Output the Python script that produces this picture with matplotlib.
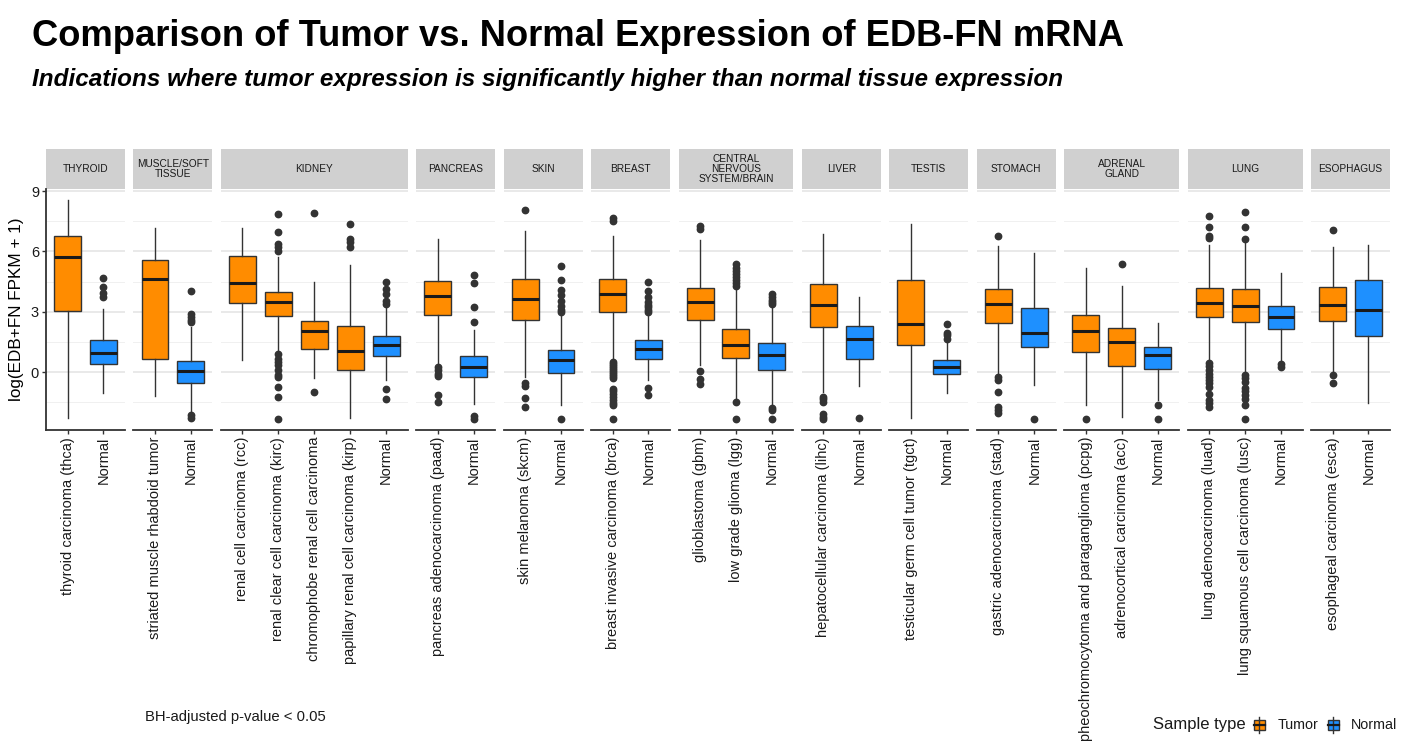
import matplotlib
matplotlib.use('Agg')
import matplotlib.pyplot as plt
from matplotlib.patches import Rectangle
from matplotlib.lines import Line2D

plt.rcParams['font.family'] = ['Liberation Sans', 'DejaVu Sans']

# ---------------- data ----------------
facets = ['THYROID', 'MUSCLE/SOFT\nTISSUE', 'KIDNEY', 'PANCREAS', 'SKIN', 'BREAST',
          'CENTRAL\nNERVOUS\nSYSTEM/BRAIN', 'LIVER', 'TESTIS', 'STOMACH',
          'ADRENAL\nGLAND', 'LUNG', 'ESOPHAGUS']
facet_sizes = [2, 2, 5, 2, 2, 2, 3, 2, 2, 2, 3, 3, 2]

labels = ['thyroid carcinoma (thca)', 'Normal',
          'striated muscle rhabdoid tumor', 'Normal',
          'renal cell carcinoma (rcc)', 'renal clear cell carcinoma (kirc)',
          'chromophobe renal cell carcinoma', 'papillary renal cell carcinoma (kirp)', 'Normal',
          'pancreas adenocarcinoma (paad)', 'Normal',
          'skin melanoma (skcm)', 'Normal',
          'breast invasive carcinoma (brca)', 'Normal',
          'glioblastoma (gbm)', 'low grade glioma (lgg)', 'Normal',
          'hepatocellular carcinoma (lihc)', 'Normal',
          'testicular germ cell tumor (tgct)', 'Normal',
          'gastric adenocarcinoma (stad)', 'Normal',
          'pheochromocytoma and paraganglioma (pcpg)', 'adrenocortical carcinoma (acc)', 'Normal',
          'lung adenocarcinoma (luad)', 'lung squamous cell carcinoma (lusc)', 'Normal',
          'esophageal carcinoma (esca)', 'Normal']

sample_type = ['Tumor', 'Normal', 'Tumor', 'Normal',
               'Tumor', 'Tumor', 'Tumor', 'Tumor', 'Normal',
               'Tumor', 'Normal', 'Tumor', 'Normal', 'Tumor', 'Normal',
               'Tumor', 'Tumor', 'Normal', 'Tumor', 'Normal', 'Tumor', 'Normal',
               'Tumor', 'Normal', 'Tumor', 'Tumor', 'Normal',
               'Tumor', 'Tumor', 'Normal', 'Tumor', 'Normal']

whislo = [-2.29, -1.05, -1.17, -1.96, 0.63, 1.09, -0.31, -2.29, -0.40,
          0.40, -1.60, -0.23, -1.63, 0.59, -0.40, 0.35, -1.30, -1.63,
          -1.00, -0.69, -2.29, -1.05, -0.15, -0.64, -1.63, -2.24, -1.38,
          0.56, -0.07, 0.43, -0.07, -1.55]
q1 = [3.02, 0.40, 0.66, -0.53, 3.43, 2.80, 1.15, 0.10, 0.81,
      2.85, -0.26, 2.57, -0.02, 2.98, 0.64, 2.59, 0.69, 0.13,
      2.23, 0.68, 1.34, -0.10, 2.44, 1.25, 1.02, 0.31, 0.15,
      2.74, 2.47, 2.16, 2.52, 1.78]
median = [5.74, 0.97, 4.63, 0.05, 4.43, 3.49, 2.03, 1.05, 1.34,
          3.81, 0.26, 3.63, 0.59, 3.89, 1.17, 3.49, 1.37, 0.84,
          3.35, 1.66, 2.37, 0.26, 3.40, 1.94, 2.03, 1.50, 0.84,
          3.46, 3.30, 2.74, 3.35, 3.07]
q3 = [6.77, 1.58, 5.59, 0.58, 5.79, 4.00, 2.55, 2.29, 1.80,
      4.53, 0.79, 4.63, 1.12, 4.63, 1.58, 4.20, 2.13, 1.43,
      4.40, 2.31, 4.60, 0.59, 4.14, 3.20, 2.85, 2.21, 1.25,
      4.20, 4.12, 3.28, 4.25, 4.58]
whishi = [8.54, 3.15, 7.14, 2.24, 7.14, 5.70, 4.50, 5.34, 3.30,
          6.61, 2.11, 7.02, 2.90, 6.77, 2.90, 6.56, 4.22, 3.31,
          6.86, 3.73, 7.35, 1.58, 6.28, 5.90, 5.16, 4.30, 2.44,
          6.33, 6.40, 4.91, 6.23, 6.33]
outliers = [
    [],
    [3.73, 3.92, 4.25, 4.66],
    [],
    [2.50, 2.60, 2.75, 2.90, 4.02, -2.14, -2.29],
    [],
    [7.85, 6.97, 6.36, 6.20, 6.03, 0.92, 0.68, 0.51, 0.35, 0.10, -0.15, -0.26, -0.73, -1.22, -2.31],
    [7.90, -0.96],
    [7.35, 6.60, 6.45, 6.23],
    [4.50, 4.14, 3.89, 3.56, 3.40, -0.81, -1.35],
    [0.26, 0.10, -0.07, -0.20, -1.14, -1.47],
    [4.83, 4.42, 3.26, 2.49, -2.18, -2.31],
    [8.06, -0.56, -0.68, -1.30, -1.71],
    [5.26, 4.60, 4.10, 3.86, 3.53, 3.31, 3.07, 2.98, -2.31],
    [7.65, 7.52, 0.51, 0.40, 0.30, 0.20, 0.10, 0.00, -0.10, -0.20, -0.30,
     -0.81, -0.95, -1.10, -1.25, -1.40, -1.55, -1.63, -2.31],
    [4.47, 4.02, 3.73, 3.48, 3.35, 3.23, 3.10, 2.98, -0.76, -1.15],
    [7.27, 7.10, 0.07, -0.36, -0.59],
    [5.37, 5.20, 5.05, 4.90, 4.75, 4.60, 4.45, 4.30, -1.48, -2.31],
    [3.89, 3.75, 3.60, 3.50, 3.40, -1.76, -1.88, -2.31],
    [-1.22, -1.35, -1.48, -2.08, -2.21, -2.31],
    [-2.26],
    [],
    [2.41, 1.96, 1.83, 1.66],
    [6.76, -0.23, -0.40, -0.97, -1.71, -1.88, -2.04],
    [-2.31],
    [-2.31],
    [5.37],
    [-1.63, -2.31],
    [7.76, 7.22, 6.77, 6.66, 0.46, 0.30, 0.10, -0.10, -0.25, -0.40, -0.55, -0.75, -1.10, -1.40, -1.55, -1.71],
    [7.98, 7.22, 6.63, -0.15, -0.30, -0.50, -0.80, -0.95, -1.15, -1.35, -1.63, -2.31],
    [0.40, 0.26],
    [7.05, -0.15, -0.56],
    [],
]

colors = {'Tumor': '#FF8C00', 'Normal': '#1E90FF'}
legend_order = ['Tumor', 'Normal']

# ---------------- layout ----------------
W, H = 1418, 756
fig = plt.figure(figsize=(W / 100, H / 100), dpi=100)

left_px, right_px = 46, 1390
gap_px = 8.5
panel_top_px, panel_bot_px = 189, 430
strip_top_px = 149
units = [n + 0.2 for n in facet_sizes]
unit_px = (right_px - left_px - gap_px * (len(facets) - 1)) / sum(units)

ylim = (-2.87, 9.1)
dark = '#333333'
txt = '#1a1a1a'

x_px = left_px
start = 0
for fi, (fname, n) in enumerate(zip(facets, facet_sizes)):
    w_px = units[fi] * unit_px
    ax = fig.add_axes([x_px / W, 1 - panel_bot_px / H, w_px / W,
                       (panel_bot_px - panel_top_px) / H])
    idx = list(range(start, start + n))
    stats = []
    for i in idx:
        stats.append(dict(med=median[i], q1=q1[i], q3=q3[i], whislo=whislo[i],
                          whishi=whishi[i], fliers=outliers[i], label=labels[i]))
    pos = list(range(1, n + 1))
    bp = ax.bxp(stats, positions=pos, widths=0.75, patch_artist=True, showcaps=False,
                boxprops=dict(edgecolor=dark, linewidth=1.0),
                medianprops=dict(color='#1a1a1a', linewidth=2.2, solid_capstyle='butt'),
                whiskerprops=dict(color=dark, linewidth=1.0),
                flierprops=dict(marker='o', markerfacecolor=dark, markeredgecolor=dark,
                                markersize=4.6, linestyle='none'),
                zorder=3)
    for b, i in zip(bp['boxes'], idx):
        b.set_facecolor(colors[sample_type[i]])

    ax.set_xlim(0.4, n + 0.6)
    ax.set_ylim(*ylim)
    ax.set_yticks([0, 3, 6, 9])
    ax.set_yticks([-1.5, 1.5, 4.5, 7.5], minor=True)
    ax.grid(axis='y', which='major', color='#e3e3e3', linewidth=1.1)
    ax.grid(axis='y', which='minor', color='#f0f0f0', linewidth=0.7)
    ax.set_axisbelow(True)
    ax.set_facecolor('white')
    for s in ['top', 'right']:
        ax.spines[s].set_visible(False)
    ax.spines['bottom'].set_color(dark)
    ax.spines['bottom'].set_linewidth(1.3)
    ax.set_xticks(pos)
    ax.set_xticklabels(labels[start:start + n], rotation=90, fontsize=10.5, color=txt)
    ax.tick_params(axis='x', length=3, width=1, color=dark, pad=2)
    if fi == 0:
        ax.spines['left'].set_color(dark)
        ax.spines['left'].set_linewidth(1.3)
        ax.tick_params(axis='y', which='major', length=3, width=1, color=dark,
                       labelsize=10.5, labelcolor=txt, pad=2)
        ax.tick_params(axis='y', which='minor', length=0)
        ax.set_ylabel('log(EDB+FN FPKM + 1)', fontsize=12.3, labelpad=5)
    else:
        ax.spines['left'].set_visible(False)
        ax.tick_params(axis='y', which='both', length=0, labelleft=False)

    # strip
    strip_h = (panel_top_px - strip_top_px) / (panel_bot_px - panel_top_px)
    ax.add_patch(Rectangle((0, 1.0), 1, strip_h, transform=ax.transAxes,
                           facecolor='#d0d0d0', edgecolor='none', clip_on=False))
    ax.text(0.5, 1.0 + strip_h / 2, fname, transform=ax.transAxes, ha='center',
            va='center', fontsize=7.3, color=txt, linespacing=0.95)

    x_px += w_px + gap_px
    start += n

# titles
fig.text(32 / W, 1 - 46 / H, 'Comparison of Tumor vs. Normal Expression of EDB-FN mRNA',
         fontsize=26.2, fontweight='bold', va='baseline', ha='left')
fig.text(32 / W, 1 - 86 / H,
         'Indications where tumor expression is significantly higher than normal tissue expression',
         fontsize=17.45, fontweight='bold', style='italic', va='baseline', ha='left')

# caption
fig.text(145 / W, 1 - 717 / H, 'BH-adjusted p-value < 0.05', fontsize=10.7,
         va='center', ha='left', color=txt)

# legend (drawn manually, ggplot style: title on the left, keys in a row)
leg_y = 1 - 725 / H
fig.text(1153 / W, leg_y, 'Sample type', fontsize=12, va='center', ha='left', color=txt)
key_x = [1259, 1333]
text_x = [1278, 1351]
kw, kh, wh = 11, 10, 16
for st, kx, tx in zip(legend_order, key_x, text_x):
    fig.add_artist(Line2D([kx / W, kx / W], [leg_y - wh / 2 / H, leg_y + wh / 2 / H],
                          color=dark, lw=1.0, transform=fig.transFigure))
    fig.add_artist(Rectangle(((kx - kw / 2) / W, leg_y - kh / 2 / H), kw / W, kh / H,
                             facecolor=colors[st], edgecolor=dark, lw=1.0,
                             transform=fig.transFigure))
    fig.add_artist(Line2D([(kx - kw / 2) / W, (kx + kw / 2) / W], [leg_y, leg_y],
                          color='#1a1a1a', lw=1.6, transform=fig.transFigure))
    fig.text(tx / W, leg_y, st, fontsize=10.3, va='center', ha='left', color=txt)

fig.savefig('out.png', dpi=100, facecolor='white')
